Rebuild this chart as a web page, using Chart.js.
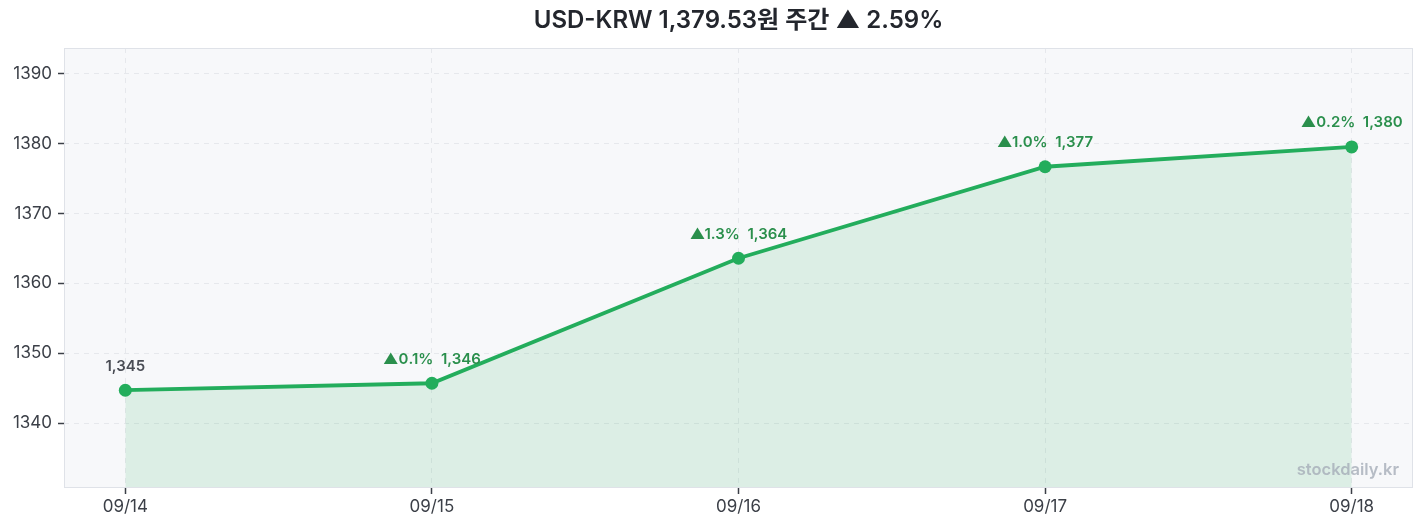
<!DOCTYPE html>
<html>
<head>
<meta charset="utf-8">
<script src="https://cdn.jsdelivr.net/npm/chart.js@4"></script>
<style>
html,body{margin:0;padding:0;background:#fff;}
#wrap{width:1425px;height:529px;position:relative;}
</style>
</head>
<body>
<div id="wrap"><canvas id="c"></canvas></div>
<script>
const titleText = 'USD-KRW 1,379.53원 주간 ▲ 2.59%';
const categories = ['09/14','09/15','09/16','09/17','09/18'];
const rates = [1344.7, 1345.7, 1363.6, 1376.7, 1379.53];
const pointLabels = ['1,345','▲0.1%  1,346','▲1.3%  1,364','▲1.0%  1,377','▲0.2%  1,380'];
const labelUp = [false, true, true, true, true];
const yTicks = [1340, 1350, 1360, 1370, 1380, 1390];
const watermark = 'stockdaily.kr';

const FONT = "Inter, 'Noto Sans CJK KR', 'Noto Sans', sans-serif";
const GREEN = '#23ad5c';

const points = rates.map((v, i) => ({x: i, y: v}));

const framePlugin = {
  id: 'frame',
  beforeDraw(chart) {
    const {ctx, chartArea: a} = chart;
    ctx.save();
    ctx.fillStyle = '#f7f8fa';
    ctx.fillRect(a.left, a.top, a.right - a.left, a.bottom - a.top);
    ctx.restore();
  },
  afterDraw(chart) {
    const {ctx, chartArea: a} = chart;
    ctx.save();
    ctx.strokeStyle = '#dfe2e8';
    ctx.lineWidth = 1;
    ctx.strokeRect(a.left + 0.5, a.top + 0.5, a.right - a.left - 1, a.bottom - a.top - 1);
    ctx.fillStyle = '#23262d';
    ctx.font = "600 24px " + FONT;
    ctx.textAlign = 'center';
    ctx.textBaseline = 'middle';
    ctx.fillText(titleText, (a.left + a.right) / 2, 21);
    const meta = chart.getDatasetMeta(0);
    ctx.font = "600 15px " + FONT;
    meta.data.forEach((el, i) => {
      ctx.fillStyle = labelUp[i] ? '#2a8f4c' : '#4a4d55';
      ctx.fillText(pointLabels[i], el.x, el.y - 24);
    });
    ctx.font = "600 16.5px " + FONT;
    ctx.fillStyle = 'rgba(165,172,184,0.8)';
    ctx.textAlign = 'right';
    ctx.fillText(watermark, a.right - 14, a.bottom - 18);
    ctx.restore();
  }
};

new Chart(document.getElementById('c'), {
  type: 'line',
  data: {
    datasets: [{
      data: points,
      borderColor: GREEN,
      borderWidth: 3.8,
      backgroundColor: 'rgba(35,173,92,0.13)',
      fill: 'start',
      tension: 0,
      pointRadius: 6.5,
      pointBackgroundColor: GREEN,
      pointBorderColor: GREEN,
      pointBorderWidth: 0
    }]
  },
  options: {
    responsive: true,
    maintainAspectRatio: false,
    animation: false,
    layout: {padding: {top: 48, right: 12, left: 0, bottom: 0}},
    plugins: {legend: {display: false}, title: {display: false}, tooltip: {enabled: false}},
    scales: {
      x: {
        type: 'linear',
        min: -0.2,
        max: 4.2,
        afterBuildTicks(s) { s.ticks = categories.map((c, i) => ({value: i})); },
        afterFit(s) { s.height = 41; },
        ticks: {
          callback: (v) => categories[v] ?? '',
          color: '#3b3f47',
          font: {family: FONT, size: 17},
          padding: 3,
          maxRotation: 0
        },
        grid: {
          color: '#e6e8ec',
          tickColor: '#3b3f47',
          tickLength: 6,
          tickWidth: 1.5,
          tickBorderDash: []
        },
        border: {display: false, dash: [5, 5]}
      },
      y: {
        min: 1330.7,
        max: 1393.7,
        afterBuildTicks(s) { s.ticks = yTicks.map(v => ({value: v})); },
        afterFit(s) { s.width = 64; },
        ticks: {
          callback: (v) => String(v),
          color: '#3b3f47',
          font: {family: FONT, size: 17},
          padding: 6
        },
        grid: {
          color: '#e6e8ec',
          tickColor: '#3b3f47',
          tickLength: 6,
          tickWidth: 1.5,
          tickBorderDash: []
        },
        border: {display: false, dash: [5, 5]}
      }
    }
  },
  plugins: [framePlugin]
});
</script>
</body>
</html>
